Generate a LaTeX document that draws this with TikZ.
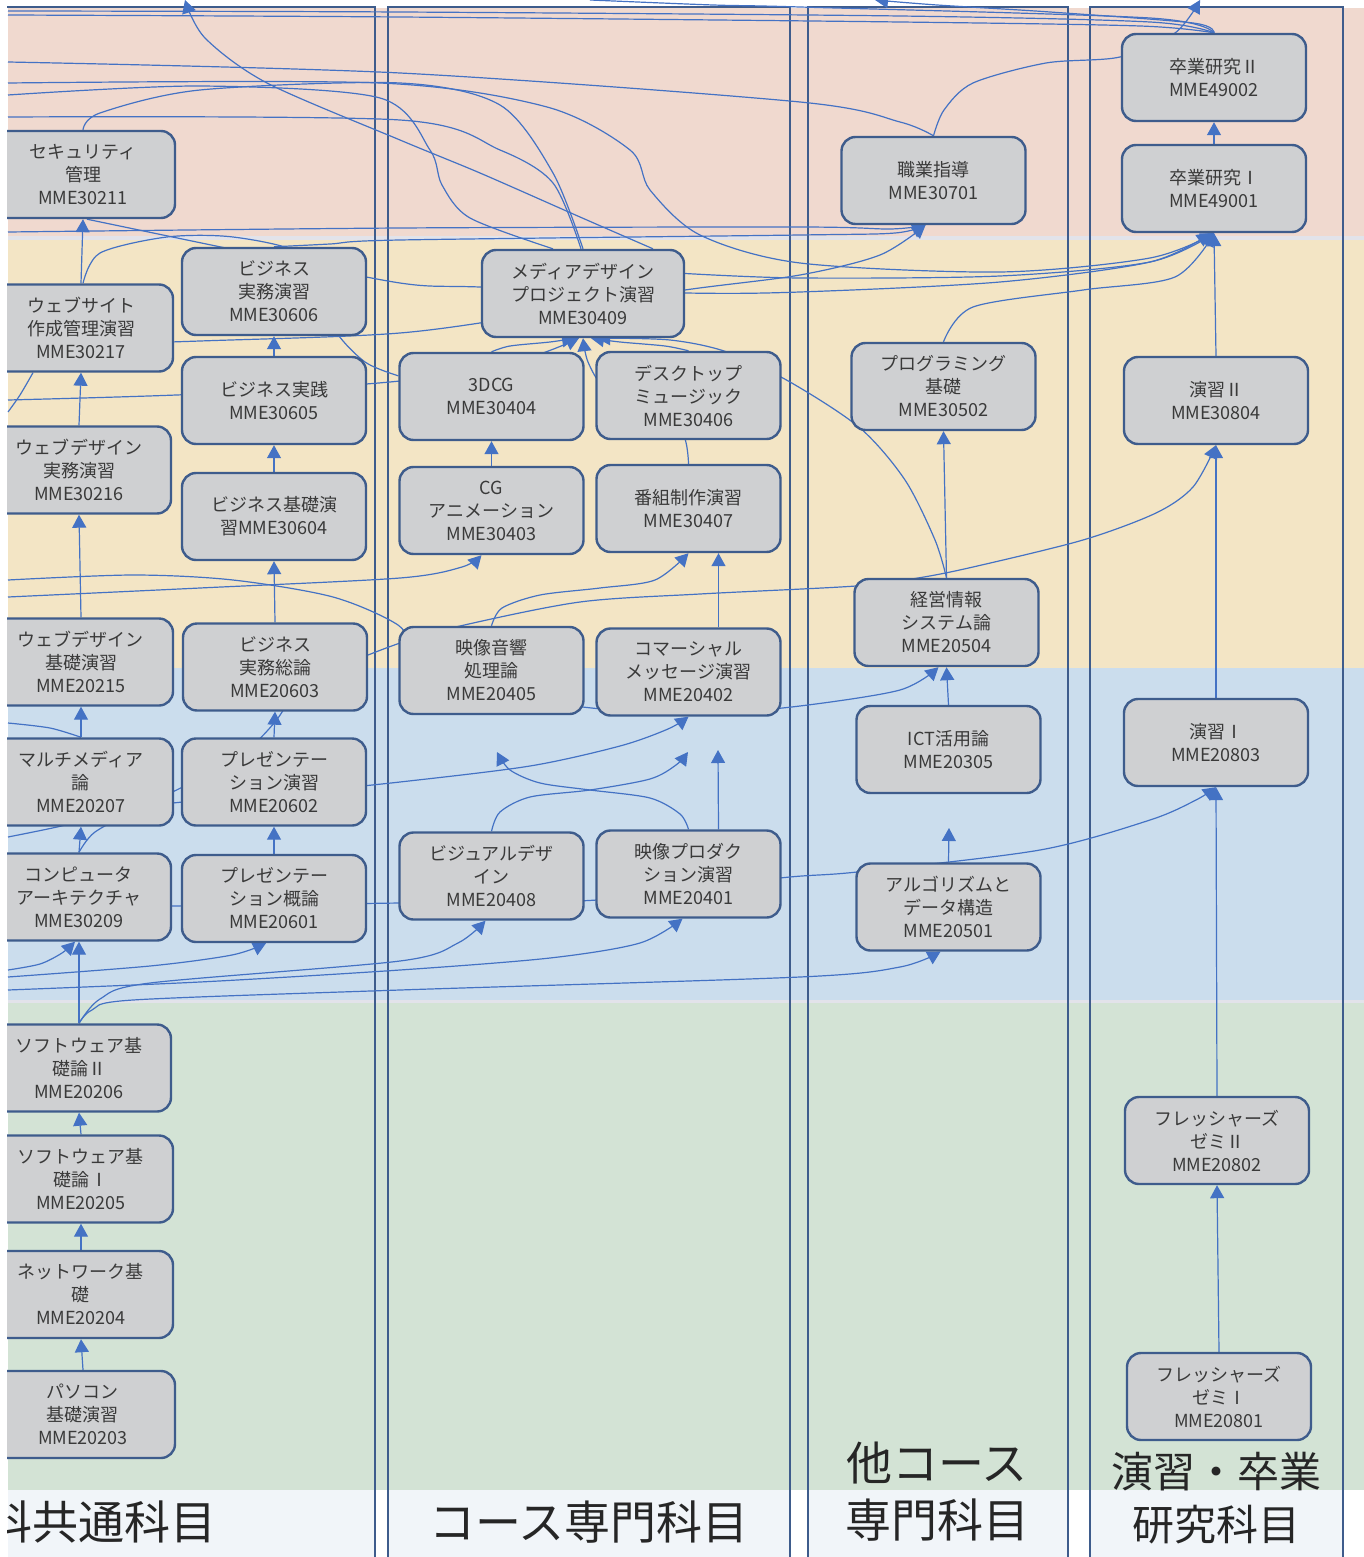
\documentclass[tikz,border=0pt]{standalone}
\usepackage{fontspec}
\setmainfont{Noto Sans CJK JP}
\usetikzlibrary{arrows.meta}
\definecolor{pinkband}{HTML}{F0D9CF}
\definecolor{yellowband}{HTML}{F3E5C5}
\definecolor{blueband}{HTML}{CBDDED}
\definecolor{greenband}{HTML}{D3E3D5}
\definecolor{footfill}{HTML}{F1F5F9}
\definecolor{gapgrey}{HTML}{E2E3EA}
\definecolor{boxgrey}{HTML}{CFD0D2}
\definecolor{boxedge}{HTML}{3E5C8C}
\definecolor{linkblue}{HTML}{4472C4}
\definecolor{txtgrey}{HTML}{3A3A3A}
\pgfdeclarelayer{bands}
\pgfdeclarelayer{links}
\pgfdeclarelayer{cover}
\pgfsetlayers{bands,links,main,cover}
\tikzset{
  course/.style={draw=boxedge, line width=1.2pt, fill=boxgrey, rounded corners=7pt,
    minimum width=92pt, minimum height=43.5pt, align=center, inner sep=1pt,
    text=txtgrey, font=\fontsize{9pt}{11.5pt}\selectfont},
  colframe/.style={draw=boxedge, line width=1.3pt},
  bandlabel/.style={text=black!85, inner sep=0pt, align=center, font=\fontsize{23pt}{28.5pt}\selectfont},
  conn/.style={draw=linkblue, line width=0.6pt},
  conna/.style={conn, -{Triangle[width=7pt,length=6.5pt]}}
}

\begin{document}
\begin{tikzpicture}[x=0.5pt,y=-0.5pt]
\useasboundingbox (0,0) rectangle (1364,1557);

\begin{pgfonlayer}{bands}
  \fill[pinkband] (8,8) rectangle (1364,236);
  \fill[gapgrey] (8,236) rectangle (1364,240);
  \fill[yellowband] (8,240) rectangle (1364,668);
  \fill[blueband] (8,668) rectangle (1364,1000);
  \fill[gapgrey] (8,1000) rectangle (1364,1003);
  \fill[greenband] (8,1003) rectangle (1364,1490);
  \foreach \l/\r in {8/375,388/790,808/1068,1090/1343}
    \fill[footfill] (\l,1490) rectangle (\r,1557);
  \foreach \l/\r in {-20/375,388/790,808/1068,1090/1343}
    \draw[colframe] (\l,7) rectangle (\r,1575);
\end{pgfonlayer}

\node[bandlabel, anchor=east] (lblcommon) at (217,1522) {科共通科目};
\node[bandlabel] (lblcourse) at (589,1522) {コース専門科目};
\node[bandlabel] (lblother) at (937,1492) {他コース\\専門科目};
\node[bandlabel, font=\fontsize{21pt}{26.5pt}\selectfont] (lblthesis) at (1216,1498) {演習・卒業\\研究科目};

\node[course] (n30211) at (83,174.5) {セキュリティ\\管理\\MME30211};
\node[course] (n30217) at (81,328) {ウェブサイト\\作成管理演習\\MME30217};
\node[course] (n30216) at (79,470) {ウェブデザイン\\実務演習\\MME30216};
\node[course] (n20215) at (81,662) {ウェブデザイン\\基礎演習\\MME20215};
\node[course] (n20207) at (81,782) {マルチメディア\\論\\MME20207};
\node[course] (n30209) at (79,897) {コンピュータ\\アーキテクチャ\\MME30209};
\node[course] (n20206) at (79,1068) {ソフトウェア基\\礎論Ⅱ\\MME20206};
\node[course] (n20205) at (81,1179) {ソフトウェア基\\礎論Ⅰ\\MME20205};
\node[course] (n20204) at (81,1294.5) {ネットワーク基\\礎\\MME20204};
\node[course] (n20203) at (83,1414.5) {パソコン\\基礎演習\\MME20203};

\node[course] (n30606) at (274,291.5) {ビジネス\\実務演習\\MME30606};
\node[course] (n30605) at (274,400.5) {ビジネス実践\\MME30605};
\node[course] (n30604) at (274,516.5) {ビジネス基礎演\\習MME30604};
\node[course] (n20603) at (275,667) {ビジネス\\実務総論\\MME20603};
\node[course] (n20602) at (274,782) {プレゼンテー\\ション演習\\MME20602};
\node[course] (n20601) at (274,898.5) {プレゼンテー\\ション概論\\MME20601};

\node[course, minimum width=101pt] (n30409) at (583,293.5) {メディアデザイン\\プロジェクト演習\\MME30409};
\node[course] (n30404) at (491.5,396.5) {3DCG\\MME30404};
\node[course] (n30406) at (688.5,395.5) {デスクトップ\\ミュージック\\MME30406};
\node[course] (n30403) at (491.5,510.5) {CG\\アニメーション\\MME30403};
\node[course] (n30407) at (688.5,508.5) {番組制作演習\\MME30407};
\node[course] (n20405) at (491.5,670.5) {映像音響\\処理論\\MME20405};
\node[course] (n20402) at (688.5,672) {コマーシャル\\メッセージ演習\\MME20402};
\node[course] (n20408) at (491.5,876) {ビジュアルデザ\\イン\\MME20408};
\node[course] (n20401) at (688.5,874) {映像プロダク\\ション演習\\MME20401};

\node[course] (n30701) at (933.5,180.5) {職業指導\\MME30701};
\node[course] (n30502) at (943.5,386.5) {プログラミング\\基礎\\MME30502};
\node[course] (n20504) at (946.5,622.5) {経営情報\\システム論\\MME20504};
\node[course] (n20305) at (948.5,749.5) {ICT活用論\\MME20305};
\node[course] (n20501) at (948.5,907) {アルゴリズムと\\データ構造\\MME20501};

\node[course] (n49002) at (1214,77.5) {卒業研究Ⅱ\\MME49002};
\node[course] (n49001) at (1214,188.5) {卒業研究Ⅰ\\MME49001};
\node[course] (n30804) at (1216,400.5) {演習Ⅱ\\MME30804};
\node[course] (n20803) at (1216,742.5) {演習Ⅰ\\MME20803};
\node[course] (n20802) at (1217,1140.5) {フレッシャーズ\\ゼミⅡ\\MME20802};
\node[course] (n20801) at (1219,1396.5) {フレッシャーズ\\ゼミⅠ\\MME20801};

\coordinate (topA) at (185,0);
\coordinate (topB) at (1200,0);
\coordinate (topC) at (875,0);
\coordinate (topD) at (590,0);
\coordinate (stubA) at (718,750);
\coordinate (stubB) at (949,828);
\coordinate (stubC) at (688,752);
\coordinate (stubD) at (497,752);
\coordinate (edgeA) at (8,597);
\coordinate (edgeB) at (8,580);
\coordinate (edgeC) at (8,837);
\coordinate (edgeD) at (8,723);
\coordinate (edgeE) at (8,990);
\coordinate (edgeF) at (8,977);
\coordinate (edgeG) at (8,970);
\coordinate (edgeH) at (8,400);
\coordinate (edgeI) at (8,347);
\coordinate (edgeJ) at (8,232);
\coordinate (edgeK) at (8,83);
\coordinate (edgeM) at (8,117);
\coordinate (edgeN) at (8,95);
\coordinate (edgeO) at (8,62);
\coordinate (edgeP) at (8,11);
\coordinate (edgeQ) at (8,15);
\coordinate (edgeR) at (8,412);

\begin{pgfonlayer}{links}
  \foreach \a/\b in {n30217/n30211,n30216/n30217,n20215/n30216,n20207/n20215,n30209/n20207,
      n20206/n30209,n20205/n20206,n20204/n20205,n20203/n20204,
      n30605/n30606,n30604/n30605,n20603/n30604,n20602/n20603,n20601/n20602,
      n30403/n30404,n20305/n20504,n20504/n30502,
      n20803/n30804,n30804/n49001,n49001/n49002,n20802/n20803,n20801/n20802}
    \draw[conna] (\a.north) -- (\b.south);
  \draw[conna] ([xshift=15pt]n20402.north) -- ([xshift=15pt]n30407.south);
  \draw[conna] ([xshift=15pt]n20401.north) -- (stubA);
  \draw[conna] (n20501.north) -- (stubB);

  \draw[conna] plot[smooth] coordinates {(n20408.north) (500,812) (530,797) (590,790) (650,779) (676,765) (stubC)};
  \draw[conna] plot[smooth] coordinates {(n20401.north) (680,814) (650,798) (590,790) (540,783) (510,770) (stubD)};
  \draw[conna] plot[smooth] coordinates {(n20405.north) (502,608) (540,595) (600,588) (655,580) (n30407.south)};
  \draw[conna] plot[smooth] coordinates {(edgeA) (200,588) (400,578) (462,567) ([xshift=-5pt]n30403.south)};
  \draw[conna] plot[smooth] coordinates {(edgeB) (133,575) (233,580) (333,597) (398,625) (414,652) (445,678) (520,698) (613,710) (713,713) (800,706) (900,690) ([xshift=-4pt]n20504.south)};
  \draw[conna] plot[smooth] coordinates {(n30209.north) (95,832) (140,808) (200,778) (250,747) (275,722) (295,695) (333,670) (400,643) (460,626) (580,602) (700,594) (856,586) (918,578) (973,567) (1083,540) (1156,513) (1193,487) (n30804.south)};
  \draw[conna] plot[smooth] coordinates {(edgeC) (57,827) (120,812) (173,803) (300,792) (400,782) (530,766) (620,746) (668,729) (n20402.south)};
  \draw[conn] plot[smooth] coordinates {(edgeD) (50,728) (n20207.north)};
  \draw[conna] plot[smooth] coordinates {([yshift=-4.5pt]n30209.east) (400,903) (597,900) (780,878) (857,872) (1040,850) (1150,820) (1196,800) (n20803.south)};
  \draw[conna] plot[smooth] coordinates {(n20206.north) (92,1010) (133,1000) (400,990) (800,977) (900,967) ([xshift=-4pt]n20501.south)};
  \draw[conna] plot[smooth] coordinates {(n20206.north) (100,999) (150,983) (400,961) (458,943) ([xshift=-3pt]n20408.south)};
  \draw[conna] plot[smooth] coordinates {(edgeE) (200,982) (400,970) (550,958) (640,943) ([xshift=-3pt]n20401.south)};
  \draw[conna] plot[smooth] coordinates {(edgeF) (150,966) (232,955) ([xshift=-4pt]n20601.south)};
  \draw[conna] plot[smooth] coordinates {(edgeG) (40,964) (62,953) ([xshift=-2pt]n30209.south)};

  \draw[conna] plot[smooth] coordinates {(n30404.north) (510,346) (550,342) ([xshift=-4pt]n30409.south)};
  \draw[conna] plot[smooth] coordinates {(n30406.north) (665,346) (620,342) ([xshift=4pt]n30409.south)};
  \draw[conna] plot[smooth] coordinates {(n30407.north) (682,432) (645,402) (605,388) (588,362) (n30409.south)};
  \draw[conna] plot[smooth] coordinates {(edgeH) (200,394) (400,381) (520,360) ([xshift=-2pt]n30409.south)};
  \draw[conna] plot[smooth] coordinates {(n20504.north) (935,540) (905,480) (860,428) (790,382) (727,352) (670,340) ([xshift=7pt]n30409.south)};
  \draw[conn] plot[smooth] coordinates {([xshift=1pt]n30217.north) (100,253) (167,237) (233,237) (300,253) (327,293) (335,330) (365,362) ([yshift=-12pt]n30404.north west)};
  \draw[conn] plot[smooth] coordinates {(edgeR) (20,395) ([xshift=-24pt]n30217.south)};
  \draw[conna] plot[smooth] coordinates {(edgeI) (200,341) (400,333) (550,312) (685,290) (800,275) (880,255) ([xshift=-4pt]n30701.south)};
  \draw[conna] plot[smooth] coordinates {(edgeJ) (400,228) (800,227) (890,229) ([xshift=-4pt]n30701.south)};
  \draw[conna] plot[smooth] coordinates {(n30606.north) (330,244) (400,240) (800,235) (895,233) ([xshift=-4pt]n30701.south)};
  \draw[conna] plot[smooth] coordinates {([xshift=2pt]n30211.south) (250,253) (400,283) (480,287) (685,293) (800,292) (1000,282) (1150,262) ([xshift=-2pt]n49001.south)};
  \draw[conna] plot[smooth] coordinates {(n30502.north) (973,307) (1083,290) (1175,277) (n49001.south)};
  \draw[conna] plot[smooth] coordinates {(edgeK) (380,83) (547,107) (630,150) (650,190) (700,235) (800,263) (1000,272) (1150,258) (n49001.south)};
  \draw[conna] plot[smooth] coordinates {([yshift=10pt]n30409.east) (800,278) (1000,276) (1150,262) (n49001.south)};

  \draw[conn] plot[smooth] coordinates {(edgeM) (400,120) (500,150) (553,183) ([xshift=-1pt]n30409.north)};
  \draw[conn] plot[smooth] coordinates {(edgeN) (200,86) (380,98) (430,150) (442,185) (470,218) ([xshift=-15pt]n30409.north)};
  \draw[conn] plot[smooth] coordinates {(n30211.north) (100,113) (200,90) (400,83) (500,105) (553,173) (n30409.north)};
  \draw[conna] plot[smooth] coordinates {([xshift=35pt]n30409.north) (580,217) (480,173) (400,140) (267,83) (205,38) (topA)};
  \draw[conn] plot[smooth] coordinates {(edgeO) (400,73) (800,102) (900,122) (n30701.north)};
  \draw[conna] plot[smooth] coordinates {(n30701.north) (944,110) (973,83) (1046,63) (1120,57) (1175,33) (topB)};
  \draw[conna] plot[smooth] coordinates {(n49002.north) (1193,23) (1050,12) (937,5) (topC)};
  \draw[conn] plot[smooth] coordinates {(n49002.north) (1150,22) (900,16) (400,12) (edgeP)};
  \draw[conn] plot[smooth] coordinates {(n49002.north) (1140,26) (900,22) (400,17) (edgeQ)};
  \draw[conn] plot[smooth] coordinates {(n49002.north) (1150,18) (800,7) (713,5) (topD)};
\end{pgfonlayer}

\begin{pgfonlayer}{cover}
  \fill[white] (0,0) rectangle (7,1557);
\end{pgfonlayer}
\end{tikzpicture}
\end{document}
